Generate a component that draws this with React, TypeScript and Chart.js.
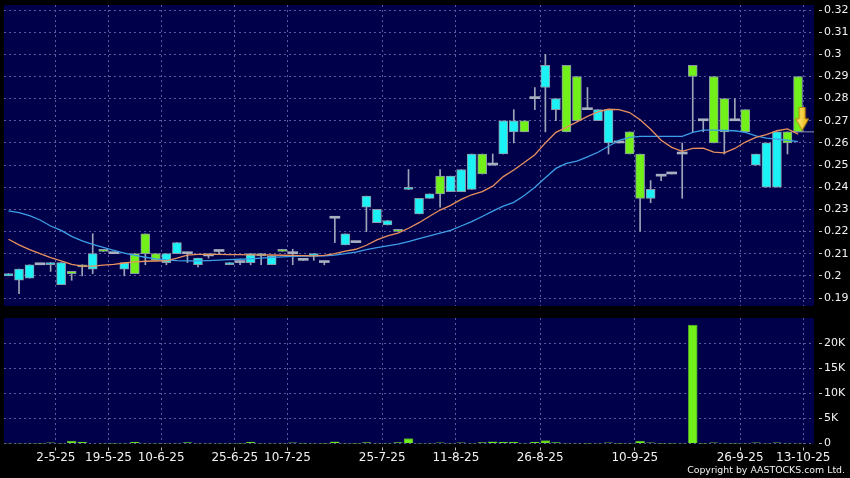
import React, { useEffect, useRef } from 'react';
import { Chart, registerables } from 'chart.js';

Chart.register(...registerables);

// ---------- data (index = trading session shown on the chart) ----------
const openP = [
  0.200, 0.198, 0.199, 0.205, 0.205, 0.196, 0.202, 0.205, 0.203, 0.212,
  0.210, 0.203, 0.210, 0.219, 0.210, 0.206, 0.210, 0.210, 0.205, 0.209,
  0.211, 0.205, 0.206, 0.206, 0.209, 0.205, 0.212, 0.210, 0.207, 0.209,
  0.206, 0.226, 0.214, 0.215, 0.231, 0.224, 0.223, 0.221, 0.239, 0.228,
  0.235, 0.245, 0.238, 0.238, 0.239, 0.255, 0.250, 0.255, 0.265, 0.270,
  0.280, 0.285, 0.275, 0.295, 0.290, 0.275, 0.270, 0.260, 0.260, 0.265,
  0.255, 0.235, 0.245, 0.246, 0.255, 0.295, 0.270, 0.290, 0.280, 0.270,
  0.275, 0.250, 0.240, 0.240, 0.265, 0.290,
];
const closeP = [
  0.201, 0.203, 0.205, 0.205, 0.206, 0.206, 0.201, 0.204, 0.210, 0.211,
  0.210, 0.206, 0.201, 0.210, 0.207, 0.210, 0.215, 0.210, 0.208, 0.209,
  0.211, 0.206, 0.206, 0.210, 0.210, 0.209, 0.211, 0.210, 0.207, 0.210,
  0.206, 0.226, 0.219, 0.215, 0.236, 0.230, 0.225, 0.220, 0.240, 0.235,
  0.237, 0.237, 0.245, 0.248, 0.255, 0.246, 0.250, 0.270, 0.270, 0.265,
  0.280, 0.295, 0.280, 0.265, 0.270, 0.275, 0.275, 0.275, 0.260, 0.255,
  0.235, 0.239, 0.245, 0.246, 0.255, 0.290, 0.270, 0.260, 0.265, 0.270,
  0.265, 0.255, 0.260, 0.265, 0.260, 0.265,
];
const highP = [
  0.201, 0.203, 0.205, 0.205, 0.206, 0.206, 0.202, 0.205, 0.219, 0.212,
  0.210, 0.206, 0.210, 0.219, 0.210, 0.210, 0.215, 0.210, 0.208, 0.209,
  0.211, 0.206, 0.206, 0.210, 0.210, 0.209, 0.212, 0.212, 0.207, 0.210,
  0.206, 0.226, 0.219, 0.215, 0.236, 0.230, 0.225, 0.221, 0.248, 0.235,
  0.237, 0.248, 0.245, 0.248, 0.255, 0.255, 0.255, 0.270, 0.275, 0.270,
  0.285, 0.300, 0.280, 0.295, 0.290, 0.285, 0.275, 0.275, 0.260, 0.265,
  0.255, 0.243, 0.245, 0.246, 0.260, 0.295, 0.270, 0.290, 0.280, 0.280,
  0.275, 0.255, 0.260, 0.265, 0.265, 0.290,
];
const lowP = [
  0.200, 0.192, 0.199, 0.205, 0.202, 0.196, 0.198, 0.200, 0.201, 0.211,
  0.210, 0.200, 0.201, 0.205, 0.207, 0.205, 0.210, 0.206, 0.204, 0.208,
  0.210, 0.205, 0.205, 0.205, 0.205, 0.205, 0.211, 0.205, 0.207, 0.207,
  0.205, 0.215, 0.214, 0.215, 0.220, 0.224, 0.223, 0.220, 0.239, 0.228,
  0.235, 0.231, 0.238, 0.238, 0.239, 0.246, 0.250, 0.255, 0.260, 0.265,
  0.275, 0.265, 0.270, 0.265, 0.270, 0.275, 0.270, 0.255, 0.260, 0.255,
  0.220, 0.233, 0.243, 0.246, 0.235, 0.265, 0.265, 0.260, 0.255, 0.270,
  0.265, 0.250, 0.240, 0.240, 0.255, 0.265,
];
const volume = [
  60, 80, 60, 40, 150, 80, 470, 270, 100, 60,
  40, 80, 270, 80, 60, 60, 60, 200, 60, 50,
  50, 60, 40, 260, 60, 50, 60, 150, 40, 60,
  40, 330, 60, 40, 200, 60, 60, 200, 1000, 60,
  60, 130, 60, 150, 80, 170, 330, 270, 270, 80,
  270, 600, 200, 60, 60, 40, 60, 150, 40, 60,
  470, 130, 40, 40, 60, 23700, 40, 150, 60, 40,
  60, 150, 60, 120, 60, 60,
];
const maShort = [
  0.2165, 0.2140, 0.2118, 0.2100, 0.2082, 0.2068, 0.2052, 0.2044, 0.2044, 0.2048,
  0.2052, 0.2058, 0.2063, 0.2066, 0.2067, 0.2068, 0.2080, 0.2094, 0.2097, 0.2097,
  0.2097, 0.2096, 0.2096, 0.2095, 0.2095, 0.2094, 0.2093, 0.2092, 0.2091, 0.2090,
  0.2092, 0.2100, 0.2112, 0.2120, 0.2138, 0.2162, 0.2180, 0.2193, 0.2215, 0.2240,
  0.2269, 0.2297, 0.2318, 0.2345, 0.2366, 0.2380, 0.2405, 0.2448, 0.2478, 0.2512,
  0.2547, 0.2600, 0.2648, 0.2670, 0.2695, 0.2720, 0.2740, 0.2752, 0.2750, 0.2737,
  0.2705, 0.2662, 0.2612, 0.2580, 0.2562, 0.2575, 0.2576, 0.2558, 0.2555, 0.2575,
  0.2604, 0.2625, 0.2638, 0.2655, 0.2663, 0.2640,
];
const maLong = [
  0.2293, 0.2285, 0.2272, 0.2252, 0.2225, 0.2205, 0.2178, 0.2158, 0.2142, 0.2128,
  0.2115, 0.2103, 0.2092, 0.2084, 0.2077, 0.2072, 0.2069, 0.2068, 0.2068, 0.2069,
  0.2071, 0.2073, 0.2075, 0.2077, 0.2080, 0.2083, 0.2086, 0.2088, 0.2089, 0.2089,
  0.2090, 0.2094, 0.2100, 0.2107, 0.2118, 0.2127, 0.2135, 0.2143, 0.2155, 0.2168,
  0.2180, 0.2193, 0.2205, 0.2225, 0.2245, 0.2268, 0.2292, 0.2315, 0.2332, 0.2363,
  0.2400, 0.2443, 0.2485, 0.2508, 0.2518, 0.2537, 0.2558, 0.2585, 0.2612, 0.2625,
  0.2630, 0.2630, 0.2630, 0.2630, 0.2630, 0.2648, 0.2658, 0.2658, 0.2656, 0.2655,
  0.2648, 0.2632, 0.2622, 0.2617, 0.2612, 0.2606,
];
const dateTickPos = [4.5, 9.5, 14.5, 21.5, 26.5, 35.5, 42.5, 50.5, 59.5, 69.5, 75.5];
const dateLabels = ['2-5-25', '19-5-25', '10-6-25', '25-6-25', '10-7-25', '25-7-25', '11-8-25', '26-8-25', '10-9-25', '26-9-25', '13-10-25'];
const priceTicks = [0.19, 0.2, 0.21, 0.22, 0.23, 0.24, 0.25, 0.26, 0.27, 0.28, 0.29, 0.3, 0.31, 0.32];
const volTicks = [0, 5000, 10000, 15000, 20000];
const lastPrice = 0.265;
const signalPoint = { x: 75.4, y: 0.2709 };

// ---------- styling ----------
const X_MIN = -0.4275;
const X_MAX = 76.52;
const PLOT_BG = '#00004A';
const GRID = '#5A5A98';
const CYAN = '#1CF2F6';
const GREEN = '#72F01A';
const EDGE = '#8C98A8';
const FONT = 'DejaVu Sans';

const bgPlugin = {
  id: 'plotBg',
  beforeDraw(chart: any) {
    const { ctx, chartArea: a } = chart;
    ctx.save();
    ctx.fillStyle = PLOT_BG;
    ctx.fillRect(a.left, a.top, a.right - a.left, a.bottom - a.top);
    ctx.restore();
  },
};

function zeroPad(s: any) {
  s.paddingTop = 0;
  s.paddingBottom = 0;
  s.paddingLeft = 0;
  s.paddingRight = 0;
}

function xScale(showLabels: boolean): any {
  return {
    type: 'linear',
    min: X_MIN,
    max: X_MAX,
    offset: false,
    afterBuildTicks: (s: any) => {
      s.ticks = dateTickPos.map((v) => ({ value: v }));
    },
    ticks: {
      display: showLabels,
      autoSkip: false,
      maxRotation: 0,
      minRotation: 0,
      color: '#F2F2F2',
      font: { family: FONT, size: 12 },
      padding: 0,
      callback: (_v: any, i: number) => dateLabels[i],
    },
    grid: {
      offset: false,
      color: GRID,
      drawTicks: showLabels,
      tickLength: 7,
      tickColor: '#B8B8C8',
      tickBorderDash: [0, 3.5, 3, 60],
    },
    border: { display: false, dash: [2, 3] },
    afterFit: (s: any) => {
      s.height = showLabels ? 34.5 : 0;
      zeroPad(s);
    },
  };
}

function yScale(min: number, max: number, ticks: number[], fmt: (v: number) => string): any {
  return {
    position: 'right',
    min,
    max,
    afterBuildTicks: (s: any) => {
      s.ticks = ticks.map((v) => ({ value: v }));
    },
    ticks: {
      color: '#F2F2F2',
      font: { family: FONT, size: 11 },
      padding: 2,
      callback: (v: any) => fmt(Number(v)),
    },
    grid: {
      color: GRID,
      drawTicks: true,
      tickLength: 8,
      tickColor: '#C8C8D0',
      tickBorderDash: [0, 5, 3, 60],
    },
    border: { display: false, dash: [2, 3] },
    afterFit: (s: any) => {
      s.width = 36;
      zeroPad(s);
    },
  };
}

function makeArrow(): HTMLCanvasElement {
  const cv = document.createElement('canvas');
  cv.width = 14;
  cv.height = 24;
  const c = cv.getContext('2d')!;
  const g = c.createLinearGradient(0, 0, 14, 0);
  g.addColorStop(0, '#FFF08A');
  g.addColorStop(1, '#E8B000');
  c.fillStyle = g;
  c.strokeStyle = '#B88400';
  c.lineWidth = 1;
  c.beginPath();
  c.moveTo(4, 0.5);
  c.lineTo(10, 0.5);
  c.lineTo(10, 12);
  c.lineTo(13.5, 12);
  c.lineTo(7, 23.5);
  c.lineTo(0.5, 12);
  c.lineTo(4, 12);
  c.closePath();
  c.fill();
  c.stroke();
  return cv;
}

export default function App() {
  const priceRef = useRef<HTMLCanvasElement>(null);
  const volRef = useRef<HTMLCanvasElement>(null);

  useEffect(() => {
    Chart.defaults.font.family = FONT;
    const idx = openP.map((_, i) => i);
    const upIdx = idx.filter((i) => closeP[i] > openP[i]);
    const downIdx = idx.filter((i) => closeP[i] < openP[i]);
    const flatIdx = idx.filter((i) => closeP[i] === openP[i]);
    const body = (list: number[]) =>
      list.map((i) => ({ x: i, y: [Math.min(openP[i], closeP[i]), Math.max(openP[i], closeP[i])] }));

    const priceChart = new Chart(priceRef.current!, {
      type: 'bar',
      data: {
        datasets: [
          {
            type: 'bar',
            data: idx.map((i) => ({ x: i, y: [lowP[i], highP[i]] })) as any,
            backgroundColor: '#9CA6B8',
            barThickness: 1,
            grouped: false,
            order: 9,
          } as any,
          {
            type: 'bar',
            data: body(upIdx) as any,
            backgroundColor: CYAN,
            borderColor: EDGE,
            borderWidth: 1,
            borderSkipped: false,
            barThickness: 9,
            grouped: false,
            order: 8,
          } as any,
          {
            type: 'bar',
            data: body(downIdx) as any,
            backgroundColor: GREEN,
            borderColor: EDGE,
            borderWidth: 1,
            borderSkipped: false,
            barThickness: 9,
            grouped: false,
            order: 8,
          } as any,
          {
            type: 'bar',
            data: flatIdx.map((i) => ({ x: i, y: [openP[i], closeP[i]] })) as any,
            backgroundColor: '#A8B0C0',
            barThickness: 10,
            minBarLength: 2,
            grouped: false,
            order: 7,
          } as any,
          {
            type: 'line',
            data: [
              { x: 74.5, y: lastPrice },
              { x: X_MAX, y: lastPrice },
            ],
            borderColor: '#8C94A8',
            borderWidth: 1,
            pointRadius: 0,
            order: 6,
          } as any,
          {
            type: 'line',
            data: maLong.map((v, i) => ({ x: i, y: v })),
            borderColor: '#3C9EE6',
            borderWidth: 1.3,
            pointRadius: 0,
            tension: 0,
            order: 3,
          } as any,
          {
            type: 'line',
            data: maShort.map((v, i) => ({ x: i, y: v })),
            borderColor: '#E8905E',
            borderWidth: 1.3,
            pointRadius: 0,
            tension: 0,
            order: 2,
          } as any,
          {
            type: 'scatter',
            data: [signalPoint],
            pointStyle: makeArrow() as any,
            pointRadius: 10,
            clip: false,
            order: 0,
          } as any,
        ],
      },
      options: {
        animation: false,
        responsive: false,
        maintainAspectRatio: false,
        layout: { autoPadding: false, padding: { left: 4, top: 5, bottom: 4, right: 0 } },
        plugins: { legend: { display: false }, tooltip: { enabled: false } },
        scales: {
          x: xScale(false),
          y: yScale(0.18639, 0.32226, priceTicks, (v) => String(Number(v.toFixed(2)))),
        },
      } as any,
      plugins: [bgPlugin],
    });

    const volChart = new Chart(volRef.current!, {
      type: 'bar',
      data: {
        datasets: [
          {
            data: volume.map((v, i) => ({ x: i, y: v })) as any,
            backgroundColor: GREEN,
            borderColor: '#4E9A2C',
            borderWidth: 1,
            borderSkipped: 'bottom',
            barThickness: 9,
            grouped: false,
          } as any,
        ],
      },
      options: {
        animation: false,
        responsive: false,
        maintainAspectRatio: false,
        layout: { autoPadding: false, padding: { left: 4, top: 8, bottom: 0, right: 0 } },
        plugins: { legend: { display: false }, tooltip: { enabled: false } },
        scales: {
          x: xScale(true),
          y: yScale(0, 25100, volTicks, (v) => (v === 0 ? '0' : v / 1000 + 'K')),
        },
      } as any,
      plugins: [bgPlugin],
    });

    return () => {
      priceChart.destroy();
      volChart.destroy();
    };
  }, []);

  return (
    <div style={{ position: 'absolute', left: 0, top: 0, width: 850, height: 478, background: '#000', overflow: 'hidden' }}>
      <canvas ref={priceRef} width={850} height={310} style={{ position: 'absolute', left: 0, top: 0, width: 850, height: 310 }} />
      <canvas ref={volRef} width={850} height={168} style={{ position: 'absolute', left: 0, top: 310, width: 850, height: 168 }} />
      <div
        style={{
          position: 'absolute',
          right: 5,
          top: 464,
          color: '#F2F2F2',
          fontFamily: FONT,
          fontSize: 9.4,
          lineHeight: '12px',
          whiteSpace: 'nowrap',
        }}
      >
        Copyright by AASTOCKS.com Ltd.
      </div>
    </div>
  );
}
